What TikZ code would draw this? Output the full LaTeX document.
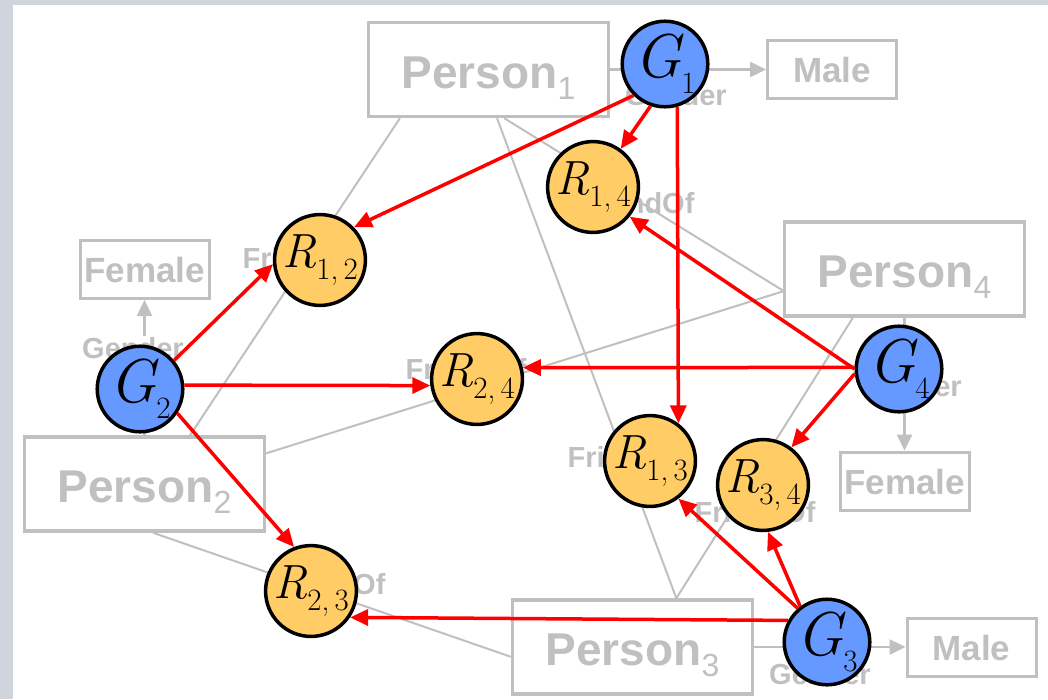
\documentclass[tikz,border=0pt]{standalone}
\usepackage{fontspec}
\setsansfont{Liberation Sans}
\usetikzlibrary{arrows.meta,calc}
\definecolor{framebg}{RGB}{207,212,221}
\definecolor{boxgray}{RGB}{192,192,192}
\definecolor{gblue}{RGB}{102,153,255}
\definecolor{rorange}{RGB}{255,204,102}
\newcommand{\pname}[1]{Person\raisebox{-11pt}{\mdseries\fontsize{32}{32}\selectfont #1}}
\newcommand{\gsym}[1]{{\fontsize{62}{62}\selectfont\itshape G}\raisebox{-16pt}{\fontsize{31}{31}\selectfont #1}}
\newcommand{\rsym}[2]{{\fontsize{48}{48}\selectfont\itshape R}\raisebox{-12pt}{\fontsize{31}{31}\selectfont #1,\,#2}}

\begin{document}
\begin{tikzpicture}[x=1pt, y=-1pt,
	person/.style={draw=boxgray, line width=3.5pt, minimum width=240pt, minimum height=94pt, inner sep=0pt, text=boxgray, font=\sffamily\bfseries\fontsize{46}{46}\selectfont, text height=44pt, text depth=7pt},
	value/.style={draw=boxgray, line width=3pt, minimum width=129pt, minimum height=58pt, inner sep=0pt, text=boxgray, font=\sffamily\bfseries\fontsize{35}{35}\selectfont, text height=34pt, text depth=8pt},
	rel/.style={text=boxgray, inner sep=1pt, font=\sffamily\bfseries\fontsize{29}{29}\selectfont},
	gender/.style={rel, fill=white},
	gvar/.style={circle, draw, line width=3.5pt, fill=gblue, minimum size=85pt, inner sep=0pt},
	rvar/.style={circle, draw, line width=3.5pt, fill=rorange, minimum size=89pt, inner sep=0pt},
	link/.style={draw=boxgray, line width=2pt},
	attr/.style={draw=boxgray, fill=boxgray, line width=2.5pt, -{Triangle[length=16pt,width=15pt]}},
	dep/.style={draw=red, fill=red, line width=3.5pt, -{Triangle[length=18pt,width=16pt]}}]
	\fill[framebg] (0,0) rectangle (1048,699);
	\fill[white] (13,5) rectangle (1048,699);
	\useasboundingbox (0,0) rectangle (1048,699);

	\node[person] (p1) at (488.5,69.5) {\pname{1}};
	\node[person] (p2) at (144.5,484) {\pname{2}};
	\node[person] (p3) at (632.5,647) {\pname{3}};
	\node[person] (p4) at (904.5,269) {\pname{4}};
	\node[value] (mt) at (832,69.5) {Male};
	\node[value] (fl) at (144.5,269.5) {Female};
	\node[value] (fr) at (904.5,481) {Female};
	\node[value] (mb) at (971.5,647) {Male};

	\draw[link] ($(p1.south west)!0.136!(p1.south east)$) -- ($(p2.north west)!0.687!(p2.north east)$);
	\draw[link] ($(p1.south west)!0.535!(p1.south east)$) -- ($(p3.north west)!0.68!(p3.north east)$);
	\draw[link] ($(p1.south west)!0.565!(p1.south east)$) -- ($(p4.north west)!0.72!(p4.south west)$);
	\draw[link] ($(p2.north east)!0.185!(p2.south east)$) -- ($(p4.north west)!0.73!(p4.south west)$);
	\draw[link] ($(p2.south west)!0.535!(p2.south east)$) -- ($(p3.north west)!0.6!(p3.south west)$);
	\draw[link] ($(p3.north west)!0.68!(p3.north east)$) -- ($(p4.south west)!0.288!(p4.south east)$);

	\draw[attr] (p1.east) -- (mt.west);
	\draw[attr] (p2.north) -- (fl.south);
	\draw[attr] (p4.south) -- (fr.north);
	\draw[attr] (p3.east) -- (mb.west);

	\node[gender] (lg1) at (676,95) {Gender};
	\node[gender] (lg2) at (133,348) {Gender};
	\node[gender] (lg3) at (820,674) {Gender};
	\node[gender] (lg4) at (911,386) {Gender};
	\node[rel] (f12) at (303,258) {FriendOf};
	\node[rel] (f13) at (628,457) {FriendOf};
	\node[rel] (f14) at (634,203) {FriendOf};
	\node[rel] (f23) at (325,584) {FriendOf};
	\node[rel] (f24) at (466,369) {FriendOf};
	\node[rel] (f34) at (755,512) {FriendOf};

	\node[gvar] (g1) at (665,64) {\gsym{1}};
	\node[gvar] (g2) at (140,389) {\gsym{2}};
	\node[gvar] (g3) at (827,642) {\gsym{3}};
	\node[gvar] (g4) at (899,369) {\gsym{4}};
	\node[rvar] (r12) at (320,260) {\rsym{1}{2}};
	\node[rvar] (r13) at (650,461) {\rsym{1}{3}};
	\node[rvar] (r14) at (593,187) {\rsym{1}{4}};
	\node[rvar] (r23) at (311,591) {\rsym{2}{3}};
	\node[rvar] (r24) at (477,379) {\rsym{2}{4}};
	\node[rvar] (r34) at (763,485) {\rsym{3}{4}};

	\draw[dep] (g1.225) -- (r12.44);
	\draw[dep] (g1.251) -- (r14.54);
	\draw[dep] (g1.-74) -- (r13.53);
	\draw[dep] (g2.40) -- (r12.185);
	\draw[dep] (g2.5) -- (r24.188);
	\draw[dep] (g2.-33) -- (r23.111);
	\draw[dep] (g4.180) -- (r14.-39);
	\draw[dep] (g4.178) -- (r24.14);
	\draw[dep] (g4.186) -- (r34.53);
	\draw[dep] (g3.131) -- (r13.-53);
	\draw[dep] (g3.127) -- (r34.-84);
	\draw[dep] (g3.151) -- (r23.-34);
\end{tikzpicture}
\end{document}
